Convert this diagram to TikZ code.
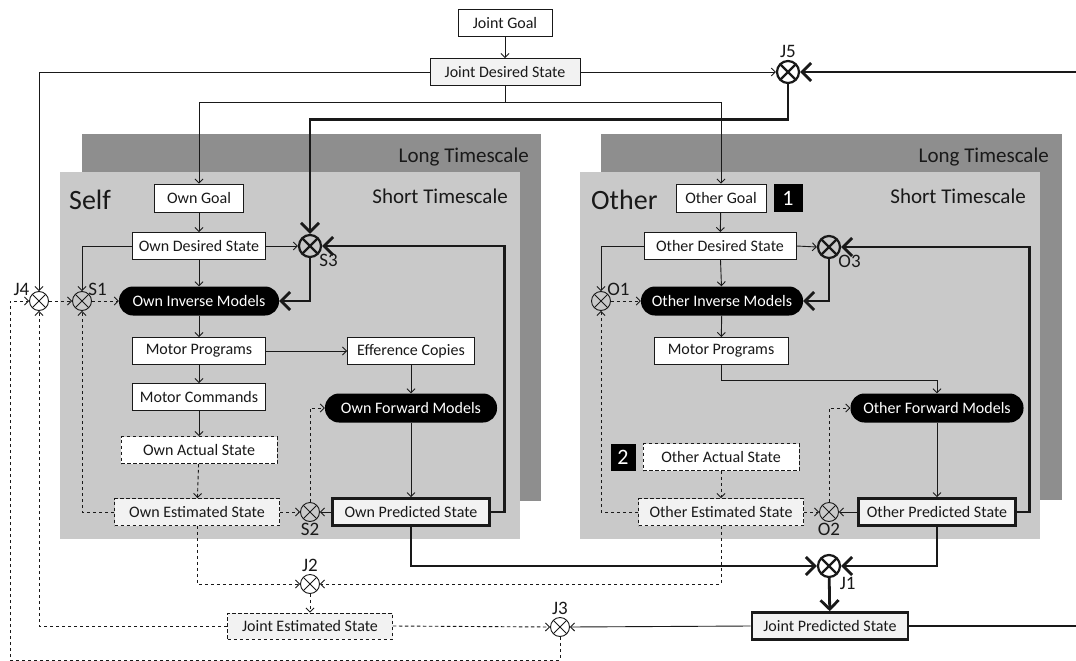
\documentclass[tikz,border=0pt]{standalone}
\usepackage{fontspec}
\setmainfont{Carlito}
\usetikzlibrary{arrows.meta}
\definecolor{longgray}{RGB}{142,142,142}
\definecolor{shortgray}{RGB}{201,201,201}
\definecolor{boxgray}{RGB}{242,242,242}
\definecolor{ink}{RGB}{25,25,25}

\tikzset{
  box/.style={draw=ink, line width=0.9pt, fill=white, minimum height=27pt, inner sep=2pt, text=ink, font=\fontsize{16}{18}\selectfont},
  greybox/.style={box, fill=boxgray},
  dbox/.style={box, dash pattern=on 3.5pt off 2.5pt},
  tbox/.style={box, fill=boxgray, line width=2.6pt},
  model/.style={fill=black, text=white, rounded corners=14pt, minimum height=29pt, inner sep=2pt, font=\fontsize{16}{18}\selectfont},
  sumnode/.style={circle, draw=ink, line width=0.9pt, minimum size=19pt, inner sep=0pt,
    path picture={\draw (path picture bounding box.north west) -- (path picture bounding box.south east)
      (path picture bounding box.north east) -- (path picture bounding box.south west);}},
  tsum/.style={sumnode, line width=2.2pt, minimum size=22pt},
  lbl/.style={font=\fontsize{19}{21}\selectfont, text=ink, inner sep=0pt},
  numbox/.style={fill=black, text=white, inner sep=0pt, font=\fontsize{22}{24}\selectfont},
  title/.style={anchor=west, inner sep=0pt, text=ink, font=\fontsize{28}{30}\selectfont},
  tslabel/.style={anchor=east, inner sep=0pt, text=ink, font=\fontsize{21}{23}\selectfont},
  arr/.style={draw=ink, line width=0.9pt, -{Straight Barb[length=4pt,width=8pt]}},
  darr/.style={arr, dash pattern=on 3.5pt off 2.5pt},
  tarr/.style={draw=ink, line width=2.8pt, -{Straight Barb[length=9pt,width=18pt]}}
}

\begin{document}
\begin{tikzpicture}[x=1pt, y=-1pt]
\useasboundingbox (0,0) rectangle (1076,661);

\fill[longgray] (82,134) rectangle (541,501);
\fill[shortgray] (60,172) rectangle (520,539);
\fill[longgray] (601,134) rectangle (1062,500);
\fill[shortgray] (580,172) rectangle (1040,539);

\node[tslabel] (longself) at (529,157) {Long Timescale};
\node[tslabel] (shortself) at (508,196) {Short Timescale};
\node[tslabel] (longother) at (1049,157) {Long Timescale};
\node[tslabel] (shortother) at (1026,196) {Short Timescale};
\node[title] (self) at (69,200) {Self};
\node[title] (other) at (591,200) {Other};

\node[box, minimum width=94pt] (jg) at (505,23) {Joint Goal};
\node[greybox, minimum width=150pt] (jds) at (505,72) {Joint Desired State};
\node[tsum, label={[lbl, label distance=2pt]90:J5}] (j5) at (788,72) {};

\node[box, minimum width=89pt, minimum height=28pt] (og) at (199,198) {Own Goal};
\node[box, minimum width=133pt] (ods) at (199,246) {Own Desired State};
\node[tsum, label={[lbl, label distance=0pt]-40:S3}] (s3) at (310,246) {};
\node[sumnode, label={[lbl, label distance=-2pt]40:S1}] (s1) at (82,301) {};
\node[sumnode, label={[lbl, label distance=1pt]150:J4}] (j4) at (39,301) {};
\node[model, minimum width=160pt] (oim) at (199,301) {Own Inverse Models};
\node[box, minimum width=133pt] (mp) at (199,351) {Motor Programs};
\node[box, minimum width=127pt] (ec) at (411,351) {Efference Copies};
\node[box, minimum width=133pt] (mc) at (199,397) {Motor Commands};
\node[model, minimum width=172pt] (ofm) at (411,408) {Own Forward Models};
\node[dbox, minimum width=156pt] (oas) at (199,450) {Own Actual State};
\node[dbox, fill=boxgray, minimum width=165pt] (oes) at (197,512) {Own Estimated State};
\node[sumnode, label={[lbl, label distance=1pt]-90:S2}] (s2) at (310,512) {};
\node[tbox, minimum width=157pt] (ops) at (411,512) {Own Predicted State};

\node[box, minimum width=90pt, minimum height=28pt] (otg) at (721,198) {Other Goal};
\node[numbox, minimum width=29pt, minimum height=28pt] (one) at (788,198) {1};
\node[box, minimum width=152pt] (otds) at (720,246) {Other Desired State};
\node[tsum, label={[lbl, label distance=0pt]-40:O3}] (o3) at (829,247) {};
\node[sumnode, label={[lbl, label distance=-2pt]40:O1}] (o1) at (601,301) {};
\node[model, minimum width=162pt] (otim) at (722,301) {Other Inverse Models};
\node[box, minimum width=134pt] (otmp) at (721,351) {Motor Programs};
\node[model, minimum width=173pt] (otfm) at (937,408) {Other Forward Models};
\node[numbox, minimum width=25pt, minimum height=27pt] (two) at (623,457) {2};
\node[dbox, minimum width=156pt] (otas) at (721,457) {Other Actual State};
\node[dbox, fill=boxgray, minimum width=165pt] (otes) at (721,512) {Other Estimated State};
\node[sumnode, label={[lbl, label distance=1pt]-90:O2}] (o2) at (829,512) {};
\node[tbox, minimum width=157pt] (otps) at (937,512) {Other Predicted State};

\node[tsum, label={[lbl, label distance=3pt]-45:J1}] (j1) at (829,566) {};
\node[sumnode, label={[lbl, label distance=2pt]90:J2}] (j2) at (310,584) {};
\node[dbox, fill=boxgray, minimum width=165pt, minimum height=26pt] (jes) at (310,626) {Joint Estimated State};
\node[sumnode, label={[lbl, label distance=2pt]90:J3}] (j3) at (560,627) {};
\node[tbox, minimum width=156pt] (jps) at (830,626) {Joint Predicted State};
\coordinate (loop) at (10,660);
\coordinate (rim) at (1084,350);

\draw[arr] (jg) -- (jds);
\draw[arr] (jds.south) -- ++(0,16) -| (og.north);
\draw[arr] (jds.south) -- ++(0,16) -| (otg.north);
\draw[arr] (jds.west) -| (j4.north);
\draw[arr] (jds.east) -- (j5.west);
\draw[tarr] (jps.east) -| (rim) |- (j5.east);
\draw[tarr] (j5.south) -- ++(0,35) -| (s3.north);

\draw[arr] (og) -- (ods);
\draw[arr] (ods.west) -| (s1.north);
\draw[arr] (ods.east) -- (s3.west);
\draw[arr] (ods) -- (oim);
\draw[tarr] (s3.south) |- (oim.east);
\draw[darr] (j4.east) -- (s1.west);
\draw[darr] (s1.east) -- (oim.west);
\draw[arr] (oim) -- (mp);
\draw[arr] (mp) -- (mc);
\draw[arr] (mp.east) -- (ec.west);
\draw[arr] (ec) -- (ofm);
\draw[arr] (mc) -- (oas);
\draw[darr] (oas) -- (oes);
\draw[arr] (ofm) -- (ops);
\draw[arr] (ops.west) -- (s2.east);
\draw[darr] (oes.east) -- (s2.west);
\draw[darr] (s2.north) |- (ofm.west);
\draw[darr] (oes.west) -| (s1.south);
\draw[tarr] (ops.east) -- ++(14,0) |- (s3.east);

\draw[arr] (otg) -- (otds);
\draw[arr] (otds.west) -| (o1.north);
\draw[arr] (otds.east) -- (o3.west);
\draw[arr] (otds) -- (otim);
\draw[tarr] (o3.south) |- (otim.east);
\draw[darr] (o1.east) -- (otim.west);
\draw[arr] (otim) -- (otmp);
\draw[arr] (otmp.south) -- ++(0,15) -| (otfm.north);
\draw[darr] (otas) -- (otes);
\draw[arr] (otfm) -- (otps);
\draw[arr] (otps.west) -- (o2.east);
\draw[darr] (otes.east) -- (o2.west);
\draw[darr] (o2.north) |- (otfm.west);
\draw[darr] (otes.west) -| (o1.south);
\draw[tarr] (otps.east) -- ++(13,0) |- (o3.east);

\draw[tarr] (ops.south) |- (j1.west);
\draw[tarr] (otps.south) |- (j1.east);
\draw[tarr] (j1) -- (jps);
\draw[darr] (oes.south) |- (j2.west);
\draw[darr] (otes.south) |- (j2.east);
\draw[darr] (j2) -- (jes);
\draw[darr] (jes.east) -- (j3.west);
\draw[arr] (jps.west) -- (j3.east);
\draw[darr] (jes.west) -| (j4.south);
\draw[darr] (j3.south) |- (loop) |- (j4.west);

\end{tikzpicture}
\end{document}
